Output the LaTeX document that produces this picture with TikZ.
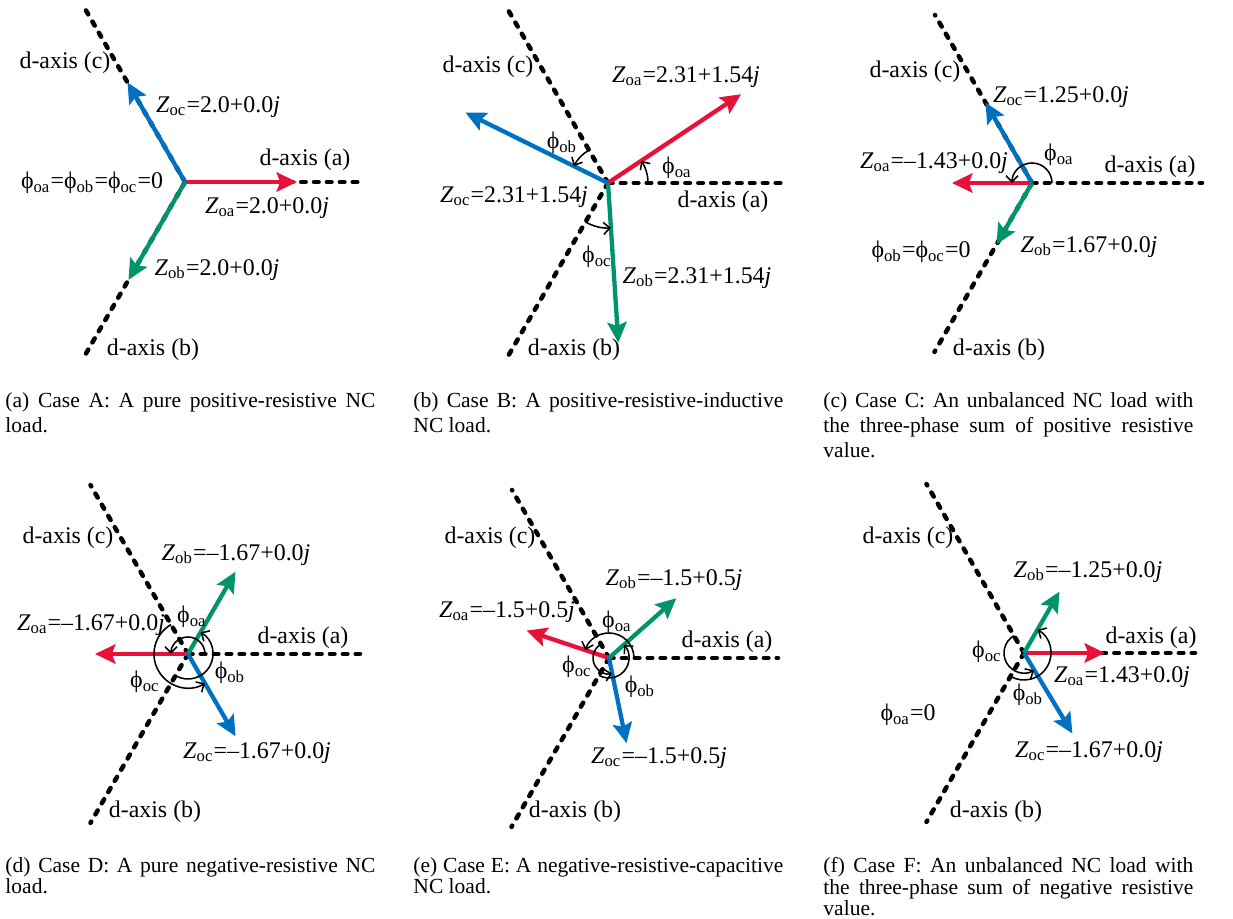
\documentclass[tikz,border=0pt]{standalone}
\usepackage{fontspec}
\setmainfont{Liberation Serif}
\usetikzlibrary{arrows.meta}
\definecolor{phasea}{RGB}{232,17,58}
\definecolor{phaseb}{RGB}{0,148,108}
\definecolor{phasec}{RGB}{0,112,192}
\newcommand{\zlab}[2]{\textit{Z}\textsubscript{#1}=#2\textit{j}}
\newcommand{\phlab}[1]{ϕ\textsubscript{#1}}

\begin{document}
\begin{tikzpicture}[x=0.4185pt,y=0.4185pt,
    every node/.style={font=\fontsize{10}{12}\selectfont,inner sep=0pt},
    daxis/.style={line width=1.9pt,line cap=round,dash pattern=on 1.9pt off 3.5pt},
    zarrow/.style={line width=1.8pt,-{Stealth[length=8.5pt,width=8pt,inset=1.5pt]}},
    anglearc/.style={line width=0.65pt,-{Straight Barb[length=2.6pt,width=5pt]}},
    capt/.style={anchor=north west,text width=154.8pt,align=justify,
      font=\fontsize{9}{10.46}\selectfont},
    captlow/.style={capt,font=\fontsize{9}{9}\selectfont}
  ]
  \path[fill=white] (0,0) rectangle (1233,919);

  % (a) balanced, positive resistive
  \begin{scope}[shift={(185,737)}]
    \coordinate (A-o) at (0,0);
    \coordinate (A-xa) at (0:173);
    \coordinate (A-xb) at (240:198);
    \coordinate (A-xc) at (120:201);
    \coordinate (A-za) at (0:112);
    \coordinate (A-zb) at (240:113);
    \coordinate (A-zc) at (120:115);
    \draw[daxis] (A-o) -- (A-xa);
    \draw[daxis] (A-o) -- (A-xb);
    \draw[daxis] (A-o) -- (A-xc);
    \draw[zarrow,phasea] (A-o) -- (A-za);
    \draw[zarrow,phaseb] (A-o) -- (A-zb);
    \draw[zarrow,phasec] (A-o) -- (A-zc);
    \node (A-lc) at (-120,119) {d-axis (c)};
    \node (A-la) at (120,22) {d-axis (a)};
    \node (A-lb) at (-32,-168) {d-axis (b)};
    \node (A-tc) at (33,75) {\zlab{oc}{2.0+0.0}};
    \node (A-ta) at (82,-26) {\zlab{oa}{2.0+0.0}};
    \node (A-tb) at (32,-88) {\zlab{ob}{2.0+0.0}};
    \node (A-ph) at (-93,-1) {\phlab{oa}=\phlab{ob}=\phlab{oc}=0};
  \end{scope}

  % (b) positive resistive-inductive
  \begin{scope}[shift={(608,736)}]
    \coordinate (B-o) at (0,0);
    \coordinate (B-xa) at (0:174);
    \coordinate (B-xb) at (240:200);
    \coordinate (B-xc) at (120:200);
    \coordinate (B-za) at (33.7:160);
    \coordinate (B-zb) at (273.7:160);
    \coordinate (B-zc) at (153.7:159);
    \draw[daxis] (B-o) -- (B-xa);
    \draw[daxis] (B-o) -- (B-xb);
    \draw[daxis] (B-o) -- (B-xc);
    \draw[zarrow,phasea] (B-o) -- (B-za);
    \draw[zarrow,phaseb] (B-o) -- (B-zb);
    \draw[zarrow,phasec] (B-o) -- (B-zc);
    \draw[anglearc] ([shift={(0:40)}]B-o) arc[start angle=0,end angle=33.7,radius=40];
    \draw[anglearc] ([shift={(120:38)}]B-o) arc[start angle=120,end angle=153.7,radius=38];
    \draw[anglearc] ([shift={(240:45)}]B-o) arc[start angle=240,end angle=273.7,radius=45];
    \node (B-lc) at (-120,116) {d-axis (c)};
    \node (B-la) at (115,-19) {d-axis (a)};
    \node (B-lb) at (-34,-167) {d-axis (b)};
    \node (B-ta) at (78,106) {\zlab{oa}{2.31+1.54}};
    \node (B-tc) at (-94,-14) {\zlab{oc}{2.31+1.54}};
    \node (B-tb) at (89,-95) {\zlab{ob}{2.31+1.54}};
    \node (B-pa) at (69,15) {\phlab{oa}};
    \node (B-pb) at (-46,40) {\phlab{ob}};
    \node (B-pc) at (-11,-74) {\phlab{oc}};
  \end{scope}

  % (c) unbalanced, positive sum
  \begin{scope}[shift={(1032,736)}]
    \coordinate (C-o) at (0,0);
    \coordinate (C-xa) at (0:170);
    \coordinate (C-xb) at (240:195);
    \coordinate (C-xc) at (120:194);
    \coordinate (C-za) at (180:80);
    \coordinate (C-zb) at (240:71);
    \coordinate (C-zc) at (120:93);
    \draw[daxis] (C-o) -- (C-xa);
    \draw[daxis] (C-o) -- (C-xb);
    \draw[daxis] (C-o) -- (C-xc);
    \draw[zarrow,phasea] (C-o) -- (C-za);
    \draw[zarrow,phaseb] (C-o) -- (C-zb);
    \draw[zarrow,phasec] (C-o) -- (C-zc);
    \draw[anglearc] ([shift={(0:20)}]C-o) arc[start angle=0,end angle=180,radius=20];
    \node (C-lc) at (-117,111) {d-axis (c)};
    \node (C-la) at (118,16) {d-axis (a)};
    \node (C-lb) at (-33,-167) {d-axis (b)};
    \node (C-tc) at (29,86) {\zlab{oc}{1.25+0.0}};
    \node (C-ta) at (-98,20) {\zlab{oa}{--1.43+0.0}};
    \node (C-tb) at (57,-64) {\zlab{ob}{1.67+0.0}};
    \node (C-pa) at (27,28) {\phlab{oa}};
    \node (C-ph) at (-111,-69) {\phlab{ob}=\phlab{oc}=0};
  \end{scope}

  % (d) balanced, negative resistive
  \begin{scope}[shift={(188,265)}]
    \coordinate (D-o) at (0,0);
    \coordinate (D-xa) at (0:172);
    \coordinate (D-xb) at (240:195);
    \coordinate (D-xc) at (120:195);
    \coordinate (D-za) at (180:93);
    \coordinate (D-zb) at (60:95);
    \coordinate (D-zc) at (-60:95);
    \draw[daxis] (D-o) -- (D-xa);
    \draw[daxis] (D-o) -- (D-xb);
    \draw[daxis] (D-o) -- (D-xc);
    \draw[zarrow,phasea] (D-o) -- (D-za);
    \draw[zarrow,phaseb] (D-o) -- (D-zb);
    \draw[zarrow,phasec] (D-o) -- (D-zc);
    \draw[anglearc] ([shift={(0:17)}]D-o) arc[start angle=0,end angle=180,radius=17];
    \draw[anglearc] ([shift={(240:25)}]D-o) arc[start angle=240,end angle=420,radius=25];
    \draw[anglearc] ([shift={(120:34)}]D-o) arc[start angle=120,end angle=300,radius=34];
    \node (D-lc) at (-120,116) {d-axis (c)};
    \node (D-la) at (115,16) {d-axis (a)};
    \node (D-lb) at (-33,-158) {d-axis (b)};
    \node (D-tb) at (48,99) {\zlab{ob}{--1.67+0.0}};
    \node (D-ta) at (-97,29) {\zlab{oa}{--1.67+0.0}};
    \node (D-tc) at (69,-99) {\zlab{oc}{--1.67+0.0}};
    \node (D-pa) at (4,37) {\phlab{oa}};
    \node (D-pb) at (42,-19) {\phlab{ob}};
    \node (D-pc) at (-43,-28) {\phlab{oc}};
  \end{scope}

  % (e) negative resistive-capacitive
  \begin{scope}[shift={(609,261)}]
    \coordinate (E-o) at (0,0);
    \coordinate (E-xa) at (0:169);
    \coordinate (E-xb) at (240:195);
    \coordinate (E-xc) at (120:194);
    \coordinate (E-za) at (161.6:87);
    \coordinate (E-zb) at (41.6:90);
    \coordinate (E-zc) at (281.6:87);
    \draw[daxis] (E-o) -- (E-xa);
    \draw[daxis] (E-o) -- (E-xb);
    \draw[daxis] (E-o) -- (E-xc);
    \draw[zarrow,phasea] (E-o) -- (E-za);
    \draw[zarrow,phaseb] (E-o) -- (E-zb);
    \draw[zarrow,phasec] (E-o) -- (E-zc);
    \draw[anglearc] ([shift={(0:25)}]E-o) arc[start angle=0,end angle=161.6,radius=25];
    \draw[anglearc] ([shift={(240:20)}]E-o) arc[start angle=240,end angle=401.6,radius=20];
    \draw[anglearc] ([shift={(120:16)}]E-o) arc[start angle=120,end angle=281.6,radius=16];
    \node (E-lc) at (-119,120) {d-axis (c)};
    \node (E-la) at (118,16) {d-axis (a)};
    \node (E-lb) at (-34,-154) {d-axis (b)};
    \node (E-tb) at (65,78) {\zlab{ob}{--1.5+0.5}};
    \node (E-ta) at (-102,46) {\zlab{oa}{--1.5+0.5}};
    \node (E-tc) at (50,-100) {\zlab{oc}{--1.5+0.5}};
    \node (E-pa) at (8,36) {\phlab{oa}};
    \node (E-pb) at (31,-29) {\phlab{ob}};
    \node (E-pc) at (-32,-9) {\phlab{oc}};
  \end{scope}

  % (f) unbalanced, negative sum
  \begin{scope}[shift={(1024,266)}]
    \coordinate (F-o) at (0,0);
    \coordinate (F-xa) at (0:171);
    \coordinate (F-xb) at (240:195);
    \coordinate (F-xc) at (120:195);
    \coordinate (F-za) at (0:81);
    \coordinate (F-zb) at (60:71);
    \coordinate (F-zc) at (-59:94);
    \draw[daxis] (F-o) -- (F-xa);
    \draw[daxis] (F-o) -- (F-xb);
    \draw[daxis] (F-o) -- (F-xc);
    \draw[zarrow,phasea] (F-o) -- (F-za);
    \draw[zarrow,phaseb] (F-o) -- (F-zb);
    \draw[zarrow,phasec] (F-o) -- (F-zc);
    \draw[anglearc] ([shift={(120:20)}]F-o) arc[start angle=120,end angle=300,radius=20];
    \draw[anglearc] ([shift={(240:27)}]F-o) arc[start angle=240,end angle=420,radius=27];
    \node (F-lc) at (-116,115) {d-axis (c)};
    \node (F-la) at (127,15) {d-axis (a)};
    \node (F-lb) at (-28,-159) {d-axis (b)};
    \node (F-tb) at (64,81) {\zlab{ob}{--1.25+0.0}};
    \node (F-ta) at (98,-24) {\zlab{oa}{1.43+0.0}};
    \node (F-tc) at (65,-99) {\zlab{oc}{--1.67+0.0}};
    \node (F-pc) at (-37,1) {\phlab{oc}};
    \node (F-pb) at (4,-42) {\phlab{ob}};
    \node (F-ph) at (-116,-62) {\phlab{oa}=0};
  \end{scope}

  % sub-captions
  \node[capt] (capa) at (5,527) {(a) Case A: A pure positive-resistive NC\linebreak load.};
  \node[capt] (capb) at (413,527) {(b) Case B: A positive-resistive-inductive\linebreak NC load.};
  \node[capt] (capc) at (823,527) {(c) Case C: An unbalanced NC load with\linebreak the three-phase sum of positive resistive\linebreak value.};
  \node[captlow] (capd) at (5,62) {(d) Case D: A pure negative-resistive NC\linebreak load.};
  \node[captlow] (cape) at (413,62) {(e) Case E: A negative-resistive-capacitive\linebreak NC load.};
  \node[captlow] (capf) at (823,62) {(f) Case F: An unbalanced NC load with\linebreak the three-phase sum of negative resistive\linebreak value.};
\end{tikzpicture}
\end{document}
